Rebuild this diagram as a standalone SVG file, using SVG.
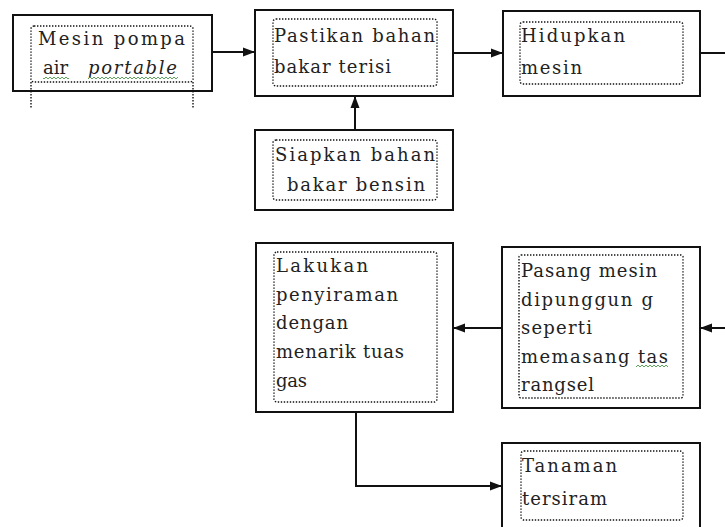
<svg xmlns="http://www.w3.org/2000/svg" width="725" height="527" viewBox="0 0 725 527">
<style>
.outer{fill:#fff;stroke:#111;stroke-width:2}
.inner{fill:none;stroke:#111;stroke-width:1.4;stroke-dasharray:1.4 1.6}
.t{font-family:"DejaVu Serif","Liberation Serif",serif;font-size:18px;fill:#222}
.con{fill:none;stroke:#111;stroke-width:2}
.sq{fill:url(#squig)}
</style>
<defs>
<marker id="ah" markerUnits="userSpaceOnUse" markerWidth="13" markerHeight="10" refX="12" refY="5" orient="auto">
<path d="M0,0.5 L12,5 L0,9.5 Z" fill="#111"/>
</marker>
<pattern id="squig" patternUnits="userSpaceOnUse" width="4" height="4">
<path d="M0,3 L2,1 L4,3" fill="none" stroke="#4c9a4c" stroke-width="0.9"/>
</pattern>
</defs>
<rect width="725" height="527" fill="#fff"/>
<g id="connectors">
<path class="con" d="M212,52 L255,52" marker-end="url(#ah)"/>
<path class="con" d="M453,53 L503,53" marker-end="url(#ah)"/>
<path class="con" d="M700,53 L725,53"/>
<path class="con" d="M355,130 L355,96" marker-end="url(#ah)"/>
<path class="con" d="M725,328 L700,328" marker-end="url(#ah)"/>
<path class="con" d="M502,328 L453,328" marker-end="url(#ah)"/>
<path class="con" d="M356,412 L356,486 L502,486" marker-end="url(#ah)"/>
</g>
<g id="node1">
<rect class="outer" x="13" y="15" width="199" height="76"/>
<rect class="inner" x="31" y="26" width="162" height="56" rx="3"/>
<path class="inner" d="M31,82 L31,108 M193,82 L193,108"/>
<text class="t" x="38" y="45" textLength="147" lengthAdjust="spacing">Mesin pompa</text>
<text class="t" y="74"><tspan x="43" textLength="25" lengthAdjust="spacing">air</tspan> <tspan x="88" font-style="italic" textLength="89" lengthAdjust="spacing">portable</tspan></text>
<rect class="sq" x="43" y="75" width="26" height="4"/>
<rect class="sq" x="88" y="75" width="90" height="4"/>
</g>
<g id="node2">
<rect class="outer" x="255" y="10" width="198" height="86"/>
<rect class="inner" x="273" y="19" width="164" height="67" rx="3"/>
<text class="t" x="274" y="42" textLength="161" lengthAdjust="spacing">Pastikan bahan</text>
<text class="t" x="274" y="73" textLength="117" lengthAdjust="spacing">bakar terisi</text>
</g>
<g id="node3">
<rect class="outer" x="255" y="130" width="198" height="80"/>
<rect class="inner" x="273" y="140" width="164" height="60" rx="3"/>
<text class="t" x="275" y="161" textLength="160" lengthAdjust="spacing">Siapkan bahan</text>
<text class="t" x="287" y="191" textLength="138" lengthAdjust="spacing">bakar bensin</text>
</g>
<g id="node4">
<rect class="outer" x="503" y="11" width="197" height="85"/>
<rect class="inner" x="520" y="22" width="163" height="62" rx="3"/>
<text class="t" x="521" y="42" textLength="104" lengthAdjust="spacing">Hidupkan</text>
<text class="t" x="521" y="74" textLength="61" lengthAdjust="spacing">mesin</text>
</g>
<g id="node5">
<rect class="outer" x="502" y="247" width="198" height="161"/>
<rect class="inner" x="519" y="255" width="164" height="143" rx="2"/>
<text class="t" x="521" y="277" textLength="136" lengthAdjust="spacing">Pasang mesin</text>
<text class="t" x="521" y="306" textLength="132" lengthAdjust="spacing">dipunggun g</text>
<text class="t" x="521" y="334" textLength="71" lengthAdjust="spacing">seperti</text>
<text class="t" x="521" y="363" textLength="147" lengthAdjust="spacing">memasang tas</text>
<text class="t" x="521" y="391" textLength="73" lengthAdjust="spacing">rangsel</text>
<rect class="sq" x="636" y="365" width="32" height="4"/>
</g>
<g id="node6">
<rect class="outer" x="256" y="243" width="197" height="169"/>
<rect class="inner" x="274" y="252" width="163" height="150" rx="3"/>
<text class="t" x="276" y="272" textLength="92" lengthAdjust="spacing">Lakukan</text>
<text class="t" x="276" y="301" textLength="122" lengthAdjust="spacing">penyiraman</text>
<text class="t" x="276" y="329" textLength="72" lengthAdjust="spacing">dengan</text>
<text class="t" x="276" y="358" textLength="128" lengthAdjust="spacing">menarik tuas</text>
<text class="t" x="276" y="387" textLength="31" lengthAdjust="spacing">gas</text>
</g>
<g id="node7">
<rect class="outer" x="502" y="443" width="198" height="95"/>
<rect class="inner" x="521" y="451" width="162" height="69" rx="3"/>
<text class="t" x="522" y="472" textLength="95" lengthAdjust="spacing">Tanaman</text>
<text class="t" x="522" y="505" textLength="85" lengthAdjust="spacing">tersiram</text>
</g>
</svg>
